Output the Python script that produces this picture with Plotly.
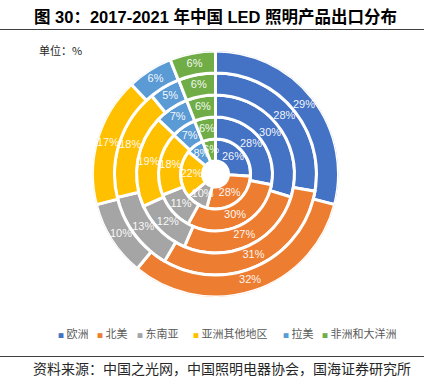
import plotly.graph_objects as go

# ---------------- data ----------------
years = ["2017", "2018", "2019", "2020", "2021"]          # inner -> outer ring
regions = ["欧洲", "北美", "东南亚", "亚洲其他地区", "拉美", "非洲和大洋洲"]
europe = [26, 28, 30, 28, 29]
north_america = [28, 30, 27, 31, 32]
southeast_asia = [10, 11, 12, 13, 10]
other_asia = [22, 18, 19, 18, 17]
latin_america = [8, 7, 7, 5, 6]
africa_oceania = [6, 6, 6, 6, 6]

series = [europe, north_america, southeast_asia, other_asia, latin_america, africa_oceania]
colors = ["#4472C4", "#ED7D31", "#A5A5A5", "#FFC000", "#5B9BD5", "#70AD47"]

# ---------------- geometry (pixels) ----------------
W, H = 430, 378
CX, CY = 215.5, 174.0      # centre of rings (px from top-left)
HOLE = 13.0                # radius of the central hole (radial-axis units = px)
RING = 22.0                # width of each ring
R = HOLE + RING * len(years)

cjk = "Noto Sans CJK SC"
latin = "Liberation Sans, Arial, Noto Sans CJK SC"

# angular placement of every slice, derived from the values
totals = [sum(s[i] for s in series) for i in range(len(years))]
mid = [[0.0] * len(years) for _ in series]
wid = [[0.0] * len(years) for _ in series]
for i in range(len(years)):
    cum = 0.0
    for j, s in enumerate(series):
        w = s[i] / totals[i] * 360.0
        mid[j][i] = cum + w / 2
        wid[j][i] = w
        cum += w

bases = [HOLE + RING * i for i in range(len(years))]

fig = go.Figure()
for j, (name, s) in enumerate(zip(regions, series)):
    fig.add_trace(go.Barpolar(
        name=name,
        theta=mid[j],
        width=wid[j],
        r=[RING] * len(years),
        base=bases,
        marker=dict(color=colors[j], line=dict(color="white", width=3)),
        customdata=[[y, v] for y, v in zip(years, s)],
        hovertemplate="%{customdata[0]} " + name + ": %{customdata[1]}%<extra></extra>",
        showlegend=False,
    ))

# data labels
lab_r, lab_t, lab_s = [], [], []
for j, s in enumerate(series):
    for i in range(len(years)):
        lab_r.append(bases[i] + RING / 2)
        lab_t.append(mid[j][i])
        lab_s.append(f"{s[i]}%")
fig.add_trace(go.Scatterpolar(
    r=lab_r, theta=lab_t, text=lab_s, mode="text",
    textfont=dict(family=latin, size=11, color="rgba(255,255,255,0.95)"),
    hoverinfo="skip", showlegend=False,
))

def px(x):
    return x / W

def py(y):
    return (H - y) / H

fig.update_layout(
    polar=dict(
        domain=dict(x=[px(CX - R), px(CX + R)], y=[py(CY + R), py(CY - R)]),
        bgcolor="white",
        barmode="overlay",
        radialaxis=dict(range=[0, R], visible=False, showgrid=False),
        angularaxis=dict(visible=False, showgrid=False, rotation=90,
                         direction="clockwise", thetaunit="degrees"),
    )
)

annotations = [
    dict(text="<b>图 30：2017-2021 年中国 LED 照明产品出口分布</b>",
         x=px(32), y=py(16), xanchor="left", yanchor="middle",
         font=dict(family=latin, size=16.5, color="#000000")),
    dict(text="单位：%", x=px(37), y=py(50), xanchor="left", yanchor="middle",
         font=dict(family=cjk, size=11, color="#262626")),
    dict(text="资料来源：中国之光网，中国照明电器协会，国海证券研究所",
         x=px(31), y=py(368), xanchor="left", yanchor="middle",
         font=dict(family=cjk, size=14, color="#262626")),
]

# legend (small square + label)
legend_x = [56, 95, 135, 191, 281, 320]
for name, col, lx in zip(regions, colors, legend_x):
    annotations.append(dict(
        text=f"<span style='color:{col};font-size:6px'>■</span> {name}",
        x=px(lx), y=py(333), xanchor="left", yanchor="middle",
        font=dict(family=cjk, size=11, color="#595959"),
    ))

for a in annotations:
    a.update(xref="paper", yref="paper", showarrow=False)

shapes = [
    dict(type="line", xref="paper", yref="paper", x0=0, x1=px(424), y0=py(29.5), y1=py(29.5),
         line=dict(color="#404040", width=1)),
    dict(type="line", xref="paper", yref="paper", x0=0, x1=px(424), y0=py(356.5), y1=py(356.5),
         line=dict(color="#404040", width=1)),
]

fig.update_layout(
    width=W, height=H,
    margin=dict(l=0, r=0, t=0, b=0),
    paper_bgcolor="white",
    plot_bgcolor="white",
    showlegend=False,
    annotations=annotations,
    shapes=shapes,
)

fig.write_html("out.html", config={"displayModeBar": False},
               post_script="document.body.style.margin='0px';")
